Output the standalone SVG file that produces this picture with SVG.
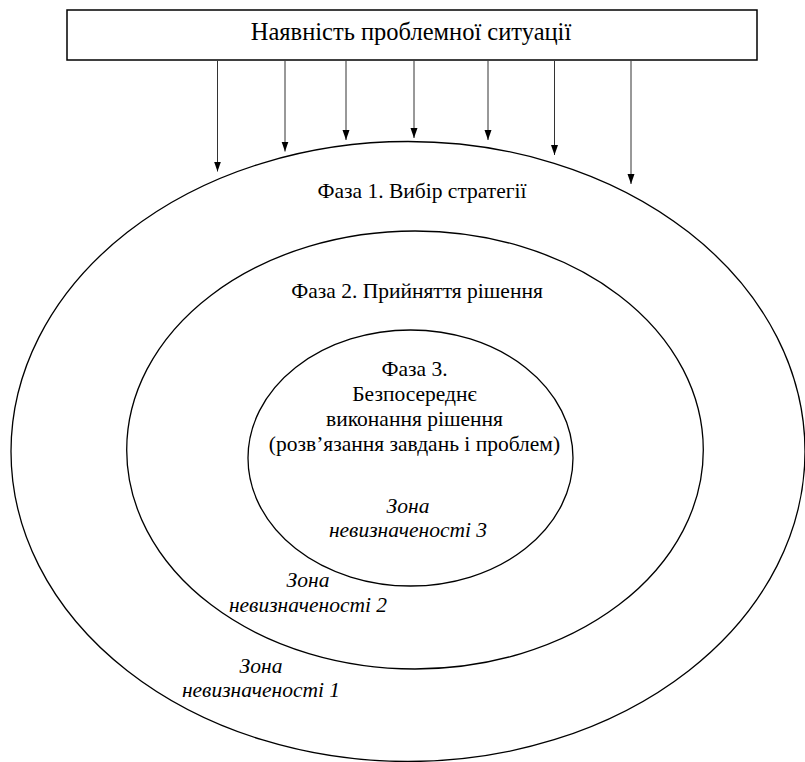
<svg xmlns="http://www.w3.org/2000/svg" width="805" height="762" viewBox="0 0 805 762">
<defs>
<marker id="arr" markerUnits="userSpaceOnUse" markerWidth="10" markerHeight="8" refX="10" refY="4" orient="auto">
<path d="M0,0.5 L10,4 L0,7.5 z" fill="#000"/>
</marker>
</defs>
<style>
text{fill:#000;text-anchor:middle}
.t{font-size:21.5px}
.h{font-size:24.5px}
.i{font-size:21.5px;font-style:italic}
.ell{fill:none;stroke:#000;stroke-width:1.3}
.con{stroke:#333;stroke-width:1;fill:none;marker-end:url(#arr)}
</style>
<rect width="805" height="762" fill="#fff"/>
<g font-family="Liberation Serif, DejaVu Serif, serif">
<g id="phase1">
<ellipse class="ell" cx="408" cy="451.5" rx="397" ry="310"/>
<text class="t" x="422" y="198">Фаза 1. Вибір стратегії</text>
</g>
<g id="phase2">
<ellipse class="ell" cx="415" cy="450" rx="288.3" ry="219"/>
<text class="t" x="417" y="298">Фаза 2. Прийняття рішення</text>
</g>
<g id="phase3">
<ellipse class="ell" cx="410.5" cy="458" rx="162.5" ry="128"/>
<text class="t" x="414.5" y="376">Фаза 3.</text>
<text class="t" x="414.5" y="401">Безпосереднє</text>
<text class="t" x="414.5" y="426">виконання рішення</text>
<text class="t" x="414.5" y="451">(розв’язання завдань і проблем)</text>
</g>
<g id="zone3">
<text class="i" x="408" y="513">Зона</text>
<text class="i" x="408" y="537">невизначеності 3</text>
</g>
<g id="zone2">
<text class="i" x="308" y="587">Зона</text>
<text class="i" x="308" y="611.5">невизначеності 2</text>
</g>
<g id="zone1">
<text class="i" x="261" y="673">Зона</text>
<text class="i" x="261" y="697">невизначеності 1</text>
</g>
<g id="problem">
<rect x="67" y="10" width="690" height="50" fill="#fff" stroke="#000" stroke-width="1.5"/>
<text class="h" x="411" y="39.5">Наявність проблемної ситуації</text>
</g>
</g>
<g id="connectors">
<path class="con" d="M217.5,61 V171.5"/>
<path class="con" d="M285,61 V151.5"/>
<path class="con" d="M346,61 V140"/>
<path class="con" d="M414,61 V138"/>
<path class="con" d="M488,61 V140"/>
<path class="con" d="M554.5,61 V155"/>
<path class="con" d="M631,61 V184"/>
</g>
</svg>
